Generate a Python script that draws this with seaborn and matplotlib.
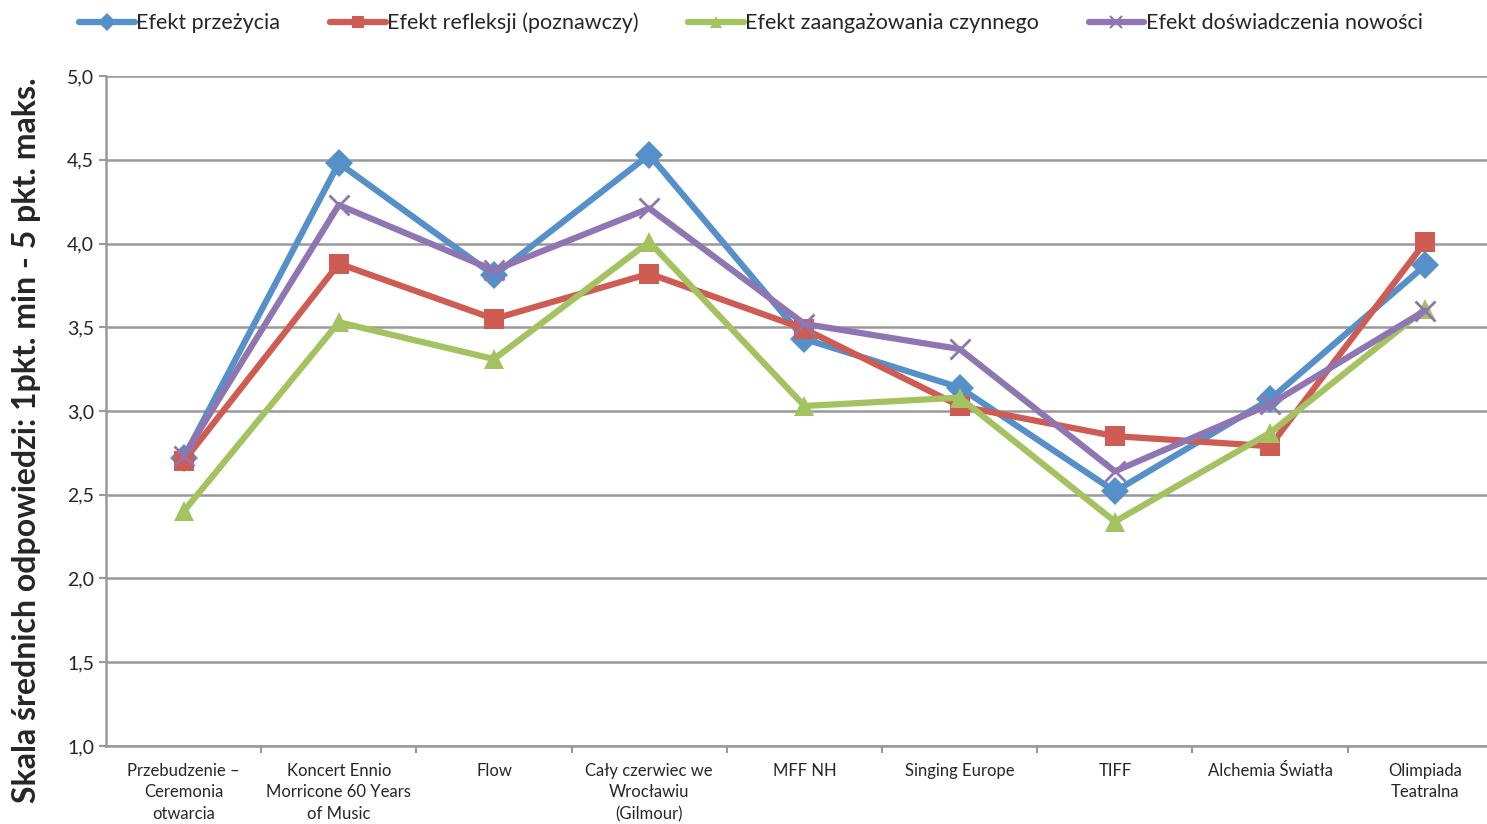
import pandas as pd
import seaborn as sns
import matplotlib.pyplot as plt
from matplotlib.ticker import FuncFormatter

# Data
categories = ['Przebudzenie –\nCeremonia\notwarcia', 'Koncert Ennio\nMorricone 60 Years\nof Music', 'Flow',
              'Cały czerwiec we\nWrocławiu\n(Gilmour)', 'MFF NH', 'Singing Europe', 'TIFF',
              'Alchemia Światła', 'Olimpiada\nTeatralna']
series_names = ['Efekt przeżycia', 'Efekt refleksji (poznawczy)',
                'Efekt zaangażowania czynnego', 'Efekt doświadczenia nowości']
przezycie = [2.72, 4.48, 3.81, 4.53, 3.43, 3.14, 2.52, 3.07, 3.87]
refleksja = [2.70, 3.88, 3.55, 3.82, 3.49, 3.03, 2.85, 2.79, 4.01]
zaangazowanie = [2.40, 3.53, 3.31, 4.01, 3.03, 3.08, 2.34, 2.87, 3.61]
nowosc = [2.73, 4.23, 3.84, 4.21, 3.52, 3.37, 2.64, 3.04, 3.60]

colors = ['#5590C9', '#CF5C52', '#A3C260', '#8F76B2']
markers = ['D', 's', '^', 'x']

sns.set_style('white')
plt.rcParams['font.family'] = ['Lato', 'DejaVu Sans']

fig = plt.figure(figsize=(14.87, 8.24), dpi=100)
ax = fig.add_axes([0.0713, 0.0947, 0.93, 0.813])

# draw each series separately (seaborn won't mix filled and line-art markers)
for name, vals, c, m in zip(series_names, [przezycie, refleksja, zaangazowanie, nowosc], colors, markers):
    d = pd.DataFrame({'idx': range(len(vals)), 'value': vals})
    sns.lineplot(data=d, x='idx', y='value', color=c, marker=m, sort=False,
                 linewidth=4.5, markersize=14 if m != 'x' else 15,
                 markeredgecolor=c if m == 'x' else 'none',
                 markeredgewidth=2.0 if m == 'x' else 0, ax=ax)

ax.set_ylim(1.0, 5.0)
ax.set_xlim(-0.5, 8.41)
ax.set_yticks([1.0, 1.5, 2.0, 2.5, 3.0, 3.5, 4.0, 4.5, 5.0])
ax.yaxis.set_major_formatter(FuncFormatter(lambda v, p: f'{v:.1f}'.replace('.', ',')))
ax.set_xticks(range(len(categories)))
ax.set_xticklabels(categories, fontsize=12, linespacing=1.45, va='top')
ax.set_xticks([i + 0.5 for i in range(len(categories) - 1)], minor=True)
ax.tick_params(axis='x', which='major', length=0, pad=12)
ax.tick_params(axis='x', which='minor', length=5, color='#999999', width=1.5, direction='out', bottom=True)
ax.tick_params(axis='y', labelsize=14, length=5, color='#999999', width=1.5, direction='out', left=True)
ax.grid(axis='y', color='#999999', linewidth=1.8)
ax.set_axisbelow(True)
for s in ['top', 'right']:
    ax.spines[s].set_visible(False)
ax.spines['left'].set_color('#999999')
ax.spines['left'].set_linewidth(1.8)
ax.spines['bottom'].set_color('#999999')
ax.spines['bottom'].set_linewidth(1.8)

ax.set_xlabel('')
ax.set_ylabel('Skala średnich odpowiedzi: 1pkt. min - 5 pkt. maks.', fontsize=23,
              fontweight='bold')
ax.yaxis.set_label_coords(-0.047, 0.457)

handles = [plt.Line2D([], [], color=c, marker=m, linewidth=4.5, markersize=9,
                      markeredgecolor=c, markeredgewidth=1.5 if m == 'x' else 0)
           for c, m in zip(colors, markers)]
fig.legend(handles, series_names, loc='upper center', bbox_to_anchor=(0.505, 1.008),
           ncol=4, frameon=False, fontsize=15.5, handlelength=2.6, handletextpad=0.05,
           columnspacing=2.3)

fig.savefig('out.png', dpi=100)
